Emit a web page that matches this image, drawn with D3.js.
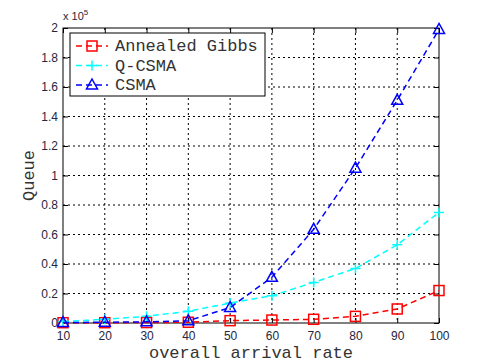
<!DOCTYPE html>
<html>
<head>
<meta charset="utf-8">
<script src="https://cdn.jsdelivr.net/npm/d3@7"></script>
<style>
  body { margin: 0; background: #fff; }
  svg { display: block; }
  .tick text { font-family: Arial, "Liberation Sans", sans-serif; font-size: 12px; fill: #262640; }
</style>
</head>
<body>
<div id="chart"></div>
<script>
// Data (queue in units of 1e5)
var rates = [10, 20, 30, 40, 50, 60, 70, 80, 90, 100];
var gibbs = [0.002, 0.002, 0.003, 0.005, 0.016, 0.02, 0.025, 0.045, 0.095, 0.22];
var qcsma = [0.01, 0.025, 0.045, 0.08, 0.135, 0.185, 0.275, 0.37, 0.53, 0.75];
var csma  = [0.003, 0.005, 0.008, 0.015, 0.105, 0.31, 0.635, 1.05, 1.51, 1.99];
var yTicks = [0, 0.2, 0.4, 0.6, 0.8, 1, 1.2, 1.4, 1.6, 1.8, 2];

var series = [
    {name: "Annealed Gibbs", values: gibbs, color: "#ff0000", marker: "square"},
    {name: "Q-CSMA", values: qcsma, color: "#00ffff", marker: "plus"},
    {name: "CSMA", values: csma, color: "#0000ff", marker: "triangle"}
];

var W = 485, H = 363,
    margin = {top: 28, right: 46, bottom: 40, left: 63},
    w = W - margin.left - margin.right,
    h = H - margin.top - margin.bottom;

var svg = d3.select("#chart").append("svg")
    .attr("width", W).attr("height", H);

var g = svg.append("g")
    .attr("transform", "translate(" + margin.left + "," + margin.top + ")");

var x = d3.scaleLinear().domain([10, 100]).range([0, w]);
var y = d3.scaleLinear().domain([0, 2]).range([h, 0]);

// grid
g.selectAll(".gx").data(rates.slice(1, -1)).enter().append("line")
    .attr("x1", d => x(d)).attr("x2", d => x(d))
    .attr("y1", 0).attr("y2", h)
    .attr("stroke", "#000").attr("stroke-width", 1).attr("stroke-dasharray", "2,3");
g.selectAll(".gy").data(yTicks.slice(1, -1)).enter().append("line")
    .attr("y1", d => y(d)).attr("y2", d => y(d))
    .attr("x1", 0).attr("x2", w)
    .attr("stroke", "#000").attr("stroke-width", 1).attr("stroke-dasharray", "2,3");

// axes
var xAxis = d3.axisBottom(x).tickValues(rates).tickSize(-5).tickPadding(8);
var yAxis = d3.axisLeft(y).tickValues(yTicks).tickSize(-5).tickPadding(5)
    .tickFormat(d => d === 0 ? "0" : d3.format("~g")(d));

g.append("g").attr("transform", "translate(0," + h + ")").call(xAxis)
    .call(s => s.select(".domain").remove());
g.append("g").call(yAxis).call(s => s.select(".domain").remove());
g.append("g").call(d3.axisTop(x).tickValues(rates).tickSize(-5).tickFormat(""))
    .call(s => s.select(".domain").remove());
g.append("g").attr("transform", "translate(" + w + ",0)")
    .call(d3.axisRight(y).tickValues(yTicks).tickSize(-5).tickFormat(""))
    .call(s => s.select(".domain").remove());
g.selectAll(".tick line").attr("stroke", "#000");

g.append("rect").attr("width", w).attr("height", h)
    .attr("fill", "none").attr("stroke", "#000").attr("stroke-width", 1);

// exponent label
var ex = svg.append("text").attr("x", margin.left).attr("y", margin.top - 8)
    .attr("font-family", "Arial, 'Liberation Sans', sans-serif").attr("font-size", 11)
    .attr("fill", "#262640");
ex.append("tspan").text("x 10");
ex.append("tspan").attr("dy", -5).attr("font-size", 8).text("5");

// markers
function drawMarker(sel, type, color) {
    if (type === "square") {
        sel.append("rect").attr("x", -5).attr("y", -5).attr("width", 10).attr("height", 10)
            .attr("fill", "none").attr("stroke", color).attr("stroke-width", 1.5);
    } else if (type === "plus") {
        sel.append("path").attr("d", "M-5,0H5M0,-5V5")
            .attr("stroke", color).attr("stroke-width", 1.5);
    } else {
        sel.append("path").attr("d", "M0,-6L5.5,4L-5.5,4Z")
            .attr("fill", "none").attr("stroke", color).attr("stroke-width", 1.5);
    }
}

var line = d3.line().x((d, i) => x(rates[i])).y(d => y(d));

series.forEach(function(s) {
    g.append("path").datum(s.values)
        .attr("d", line)
        .attr("fill", "none").attr("stroke", s.color)
        .attr("stroke-width", 1.5).attr("stroke-dasharray", "6,4");
    s.values.forEach(function(v, i) {
        var m = g.append("g").attr("transform", "translate(" + x(rates[i]) + "," + y(v) + ")");
        drawMarker(m, s.marker, s.color);
    });
});

// legend
var lg = svg.append("g").attr("transform", "translate(70,33)");
lg.append("rect").attr("width", 195).attr("height", 63)
    .attr("fill", "#fff").attr("stroke", "#000").attr("stroke-width", 1);
series.forEach(function(s, i) {
    var yy = 13 + i * 19.5;
    lg.append("line").attr("x1", 6).attr("x2", 38).attr("y1", yy).attr("y2", yy)
        .attr("stroke", s.color).attr("stroke-width", 1.5).attr("stroke-dasharray", "6,4");
    var m = lg.append("g").attr("transform", "translate(22," + yy + ")");
    drawMarker(m, s.marker, s.color);
    lg.append("text").attr("x", 45).attr("y", yy + 5)
        .attr("font-family", "'Liberation Mono', 'DejaVu Sans Mono', monospace")
        .attr("font-size", 17).attr("fill", "#333").text(s.name);
});

// axis labels
svg.append("text").attr("x", margin.left + w / 2).attr("y", H - 5)
    .attr("text-anchor", "middle")
    .attr("font-family", "'Liberation Mono', 'DejaVu Sans Mono', monospace")
    .attr("font-size", 17).attr("fill", "#333").text("overall arrival rate");
svg.append("text")
    .attr("transform", "translate(34," + (margin.top + h / 2) + ") rotate(-90)")
    .attr("text-anchor", "middle")
    .attr("font-family", "'Liberation Mono', 'DejaVu Sans Mono', monospace")
    .attr("font-size", 17).attr("fill", "#333").text("Queue");
</script>
</body>
</html>
